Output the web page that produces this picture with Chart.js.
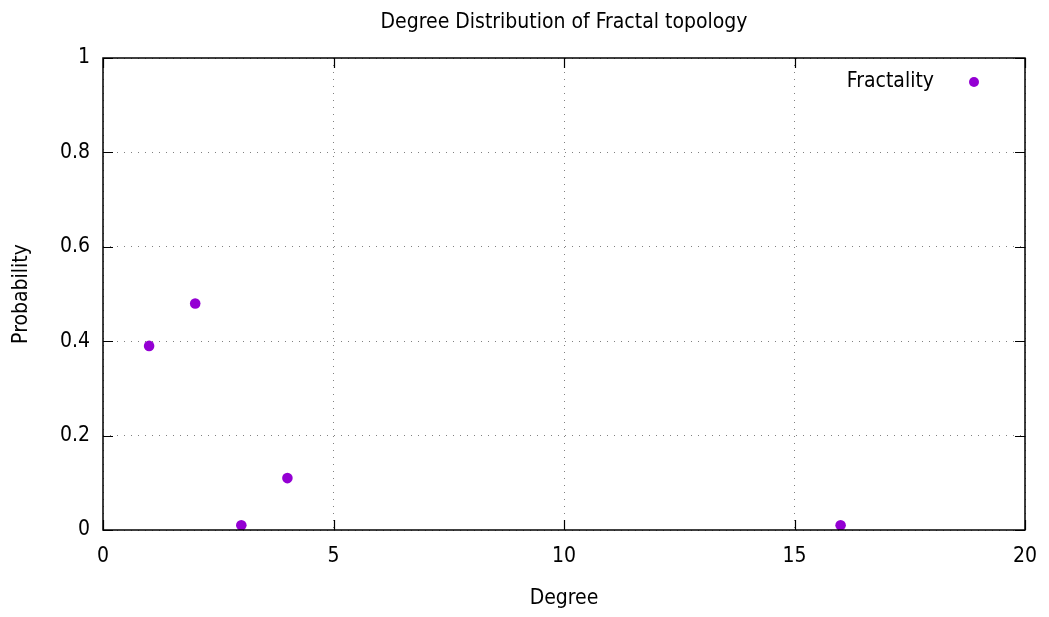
<!DOCTYPE html>
<html>
<head>
<meta charset="utf-8">
<script src="https://cdn.jsdelivr.net/npm/chart.js@4/dist/chart.umd.min.js"></script>
<style>
html,body{margin:0;padding:0;background:#fff;}
#wrap{width:1049px;height:617px;position:relative;}
</style>
</head>
<body>
<div id="wrap"><canvas id="c" width="1049" height="617"></canvas></div>
<script>
const chartTitle = 'Degree Distribution of Fractal topology';
const seriesName = 'Fractality';
const xAxisTitle = 'Degree';
const yAxisTitle = 'Probability';
const degrees = [1, 2, 3, 4, 16];
const probabilities = [0.39, 0.48, 0.01, 0.11, 0.01];
const xTicks = [0, 5, 10, 15, 20];
const xTickLabels = ['0', '5', '10', '15', '20'];
const yTicks = [0, 0.2, 0.4, 0.6, 0.8, 1];
const yTickLabels = ['0', '0.2', '0.4', '0.6', '0.8', '1'];

const FONT = "'DejaVu Sans Condensed', 'DejaVu Sans', sans-serif";
const FS = 21;
const COLOR = '#9400D3';

const points = degrees.map((d, i) => ({x: d, y: probabilities[i]}));

const framePlugin = {
  id: 'frame',
  afterDatasetsDraw(chart) {
    const ctx = chart.ctx;
    const a = chart.chartArea;
    const xs = chart.scales.x, ys = chart.scales.y;
    ctx.save();
    ctx.strokeStyle = '#000';
    ctx.lineWidth = 1.5;
    ctx.strokeRect(a.left, a.top, a.right - a.left, a.bottom - a.top);
    ctx.lineWidth = 1.2;
    const TL = 10;
    ctx.beginPath();
    xTicks.forEach(v => {
      const px = Math.round(xs.getPixelForValue(v)) + 0.5;
      ctx.moveTo(px, a.bottom); ctx.lineTo(px, a.bottom - TL);
      ctx.moveTo(px, a.top); ctx.lineTo(px, a.top + TL);
    });
    yTicks.forEach(v => {
      const py = Math.round(ys.getPixelForValue(v)) + 0.5;
      ctx.moveTo(a.left, py); ctx.lineTo(a.left + TL, py);
      ctx.moveTo(a.right, py); ctx.lineTo(a.right - TL, py);
    });
    ctx.stroke();
    // title
    ctx.fillStyle = '#000';
    ctx.font = FS + 'px ' + FONT;
    ctx.textAlign = 'center';
    ctx.textBaseline = 'alphabetic';
    ctx.fillText(chartTitle, (a.left + a.right) / 2, 28);
    // legend
    ctx.textAlign = 'right';
    ctx.textBaseline = 'middle';
    ctx.fillText(seriesName, 934, 82);
    ctx.fillStyle = COLOR;
    ctx.beginPath();
    ctx.arc(974, 82, 5, 0, Math.PI * 2);
    ctx.fill();
    ctx.restore();
  }
};

new Chart(document.getElementById('c'), {
  type: 'scatter',
  data: {
    datasets: [{
      label: seriesName,
      data: points,
      backgroundColor: COLOR,
      borderColor: COLOR,
      borderWidth: 0,
      pointRadius: 5.3,
      pointHoverRadius: 5.3,
      pointStyle: 'circle'
    }]
  },
  options: {
    responsive: false,
    animation: false,
    events: [],
    layout: {padding: {left: 0, right: 24, top: 58, bottom: 0}},
    plugins: {
      legend: {display: false},
      title: {display: false},
      tooltip: {enabled: false}
    },
    scales: {
      x: {
        type: 'linear',
        min: 0, max: 20,
        afterBuildTicks: s => { s.ticks = xTicks.map(v => ({value: v})); },
        afterFit: s => { s.height = 87; s.paddingLeft = 0; s.paddingRight = 0; },
        ticks: {
          color: '#000',
          font: {family: FONT, size: FS},
          padding: 14,
          maxRotation: 0,
          autoSkip: false,
          callback: (v, i) => xTickLabels[i]
        },
        grid: {color: '#808080', lineWidth: 1, drawTicks: false},
        border: {display: false, dash: [1, 6]},
        title: {display: true, text: xAxisTitle, color: '#000', font: {family: FONT, size: FS}, padding: {top: 0, bottom: 6}}
      },
      y: {
        type: 'linear',
        min: 0, max: 1,
        afterBuildTicks: s => { s.ticks = yTicks.map(v => ({value: v})); },
        afterFit: s => { s.width = 103; s.paddingTop = 0; s.paddingBottom = 0; },
        ticks: {
          color: '#000',
          font: {family: FONT, size: FS},
          padding: 13,
          autoSkip: false,
          callback: (v, i) => yTickLabels[i]
        },
        grid: {color: '#808080', lineWidth: 1, drawTicks: false},
        border: {display: false, dash: [1, 6]},
        title: {display: true, text: yAxisTitle, color: '#000', font: {family: FONT, size: FS}, padding: {top: 9, bottom: 0}}
      }
    }
  },
  plugins: [framePlugin]
});
</script>
</body>
</html>
